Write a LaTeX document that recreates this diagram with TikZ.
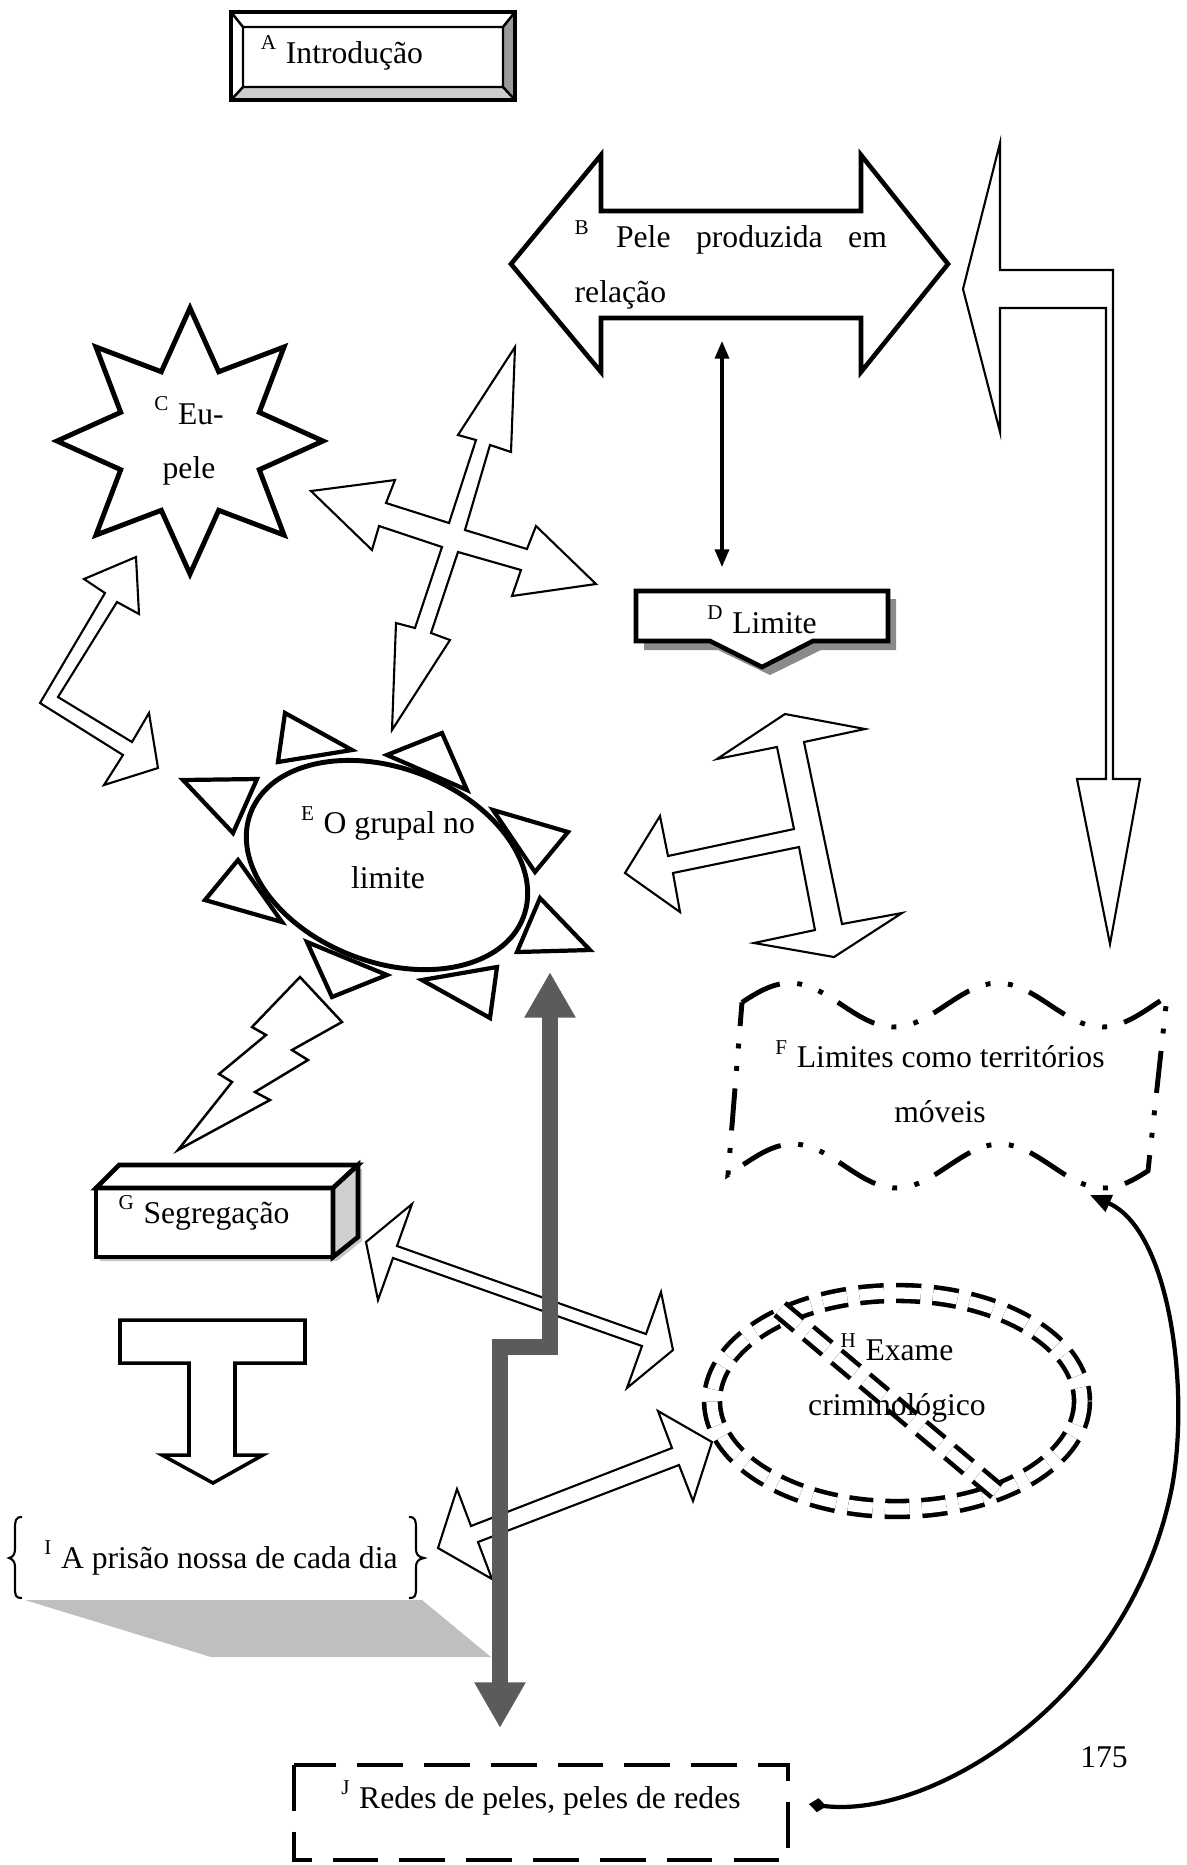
\documentclass[tikz,border=0pt]{standalone}
\usepackage{fontspec}
\setmainfont{Liberation Serif}
\usetikzlibrary{arrows.meta}
\definecolor{bargray}{HTML}{5B5B5B}
\definecolor{shadowgray}{HTML}{BFBFBF}
\definecolor{darkshadow}{HTML}{8A8A8A}
\definecolor{bevelside}{HTML}{9A9A9A}
\definecolor{bevelfoot}{HTML}{CDCDCD}
\definecolor{facegray}{HTML}{D0D0D0}
\begin{document}
\begin{tikzpicture}[x=0.01cm,y=-0.01cm,
  txt/.style={font=\fontsize{9}{15.6}\selectfont, inner sep=0pt, align=center},
  heavy/.style={draw, line width=1.3pt, fill=white},
  blockarr/.style={draw, line width=0.6pt, fill=white},
  barline/.style={draw=bargray, line width=4.3pt, arrows={Triangle[length=13pt,width=13.7pt]-Triangle[length=13pt,width=13.7pt]}},
  dashring/.style={draw, line width=1.3pt, double=white, double distance=3.2pt, dash pattern=on 7pt off 3.5pt}]
\useasboundingbox (0,0) rectangle (1187,1865);

% A
\fill[bevelside] (503,27) -- (515,12) -- (515,100) -- (503,87) -- cycle;
\fill[bevelfoot] (243,87) -- (503,87) -- (515,100) -- (231,100) -- cycle;
\draw[line width=0.9pt] (231,12) rectangle (515,100);
\draw[line width=0.7pt] (243,27) rectangle (503,87) (231,12) -- (243,27) (515,12) -- (503,27)
  (515,100) -- (503,87) (231,100) -- (243,87);
\node[txt, anchor=base] (intro) at (342,63) {\textsuperscript{A} Introdução};

% B
\draw[heavy] (511,264) -- (601,155) -- (601,211) -- (861,211) -- (861,155) -- (948,264)
  -- (861,372) -- (861,318) -- (601,318) -- (601,372) -- cycle;
\node[txt, text width=3.12cm, align=left, anchor=north west] (pele) at (574,220)
  {\textsuperscript{B}\hfill Pele\hfill produzida\hfill em\\relação};

% B -> F bent arrow
\draw[blockarr] (963,289) -- (1000,143) -- (1000,270) -- (1113,270) -- (1113,779) -- (1140,779)
  -- (1110,944) -- (1077,779) -- (1106,779) -- (1106,308) -- (1000,308) -- (1000,432) -- cycle;

% B <-> D
\coordinate (peleFoot) at (722,341);
\coordinate (limiteTop) at (722,567);
\draw[line width=0.9pt, arrows={Triangle[length=5pt,width=4pt]-Triangle[length=5pt,width=4pt]}] (peleFoot) -- (limiteTop);

% D
\fill[darkshadow] (644,599) -- (896,599) -- (896,650) -- (821,650) -- (770,675) -- (718,650) -- (644,650) -- cycle;
\draw[heavy] (636,591) -- (888,591) -- (888,641) -- (813,641) -- (762,667) -- (710,641) -- (636,641) -- cycle;
\node[txt, anchor=base] (limite) at (762,633) {\textsuperscript{D} Limite};

% C
\draw[heavy, line width=1.4pt, shift={(190,441)}] (90:133)
  \foreach \k in {1,...,15} { -- ({90+22.5*\k}:{ifthenelse(isodd(\k),75,133)}) } -- cycle;
\node[txt, anchor=north] (eupele) at (189,396) {\textsuperscript{C} Eu-\\pele};

% C <-> E
\draw[blockarr] (136,557) -- (139,614) -- (117,602) -- (58,697) -- (132,742) -- (149,713) -- (158,768)
  -- (104,785) -- (123,755) -- (40,703) -- (105,593) -- (84,579) -- cycle;

% cross between C, B, D and E
\draw[blockarr] (515,347) -- (511,452) -- (490,445) -- (465,530) -- (527,549) -- (536,526) -- (596,584)
  -- (512,596) -- (521,570) -- (458,552) -- (431,633) -- (450,640) -- (392,730) -- (396,623)
  -- (415,628) -- (442,547) -- (379,526) -- (372,550) -- (311,491) -- (395,480) -- (386,503)
  -- (449,523) -- (476,440) -- (458,435) -- cycle;

% cross between D and E
\draw[blockarr] (785,714) -- (865,729) -- (804,742) -- (842,924) -- (902,913) -- (834,957) -- (754,943)
  -- (815,930) -- (799,847) -- (673,873) -- (680,912) -- (625,873) -- (660,816) -- (668,856)
  -- (794,829) -- (777,747) -- (717,759) -- cycle;

% E
\draw[heavy, line width=1.4pt, rotate around={-21:(387,865)}] (387,865) ellipse [x radius=146, y radius=97];
\foreach \xa/\ya/\xb/\yb/\xc/\yc in {285/713/278/762/352/750, 442/733/467/790/387/755,
    493/810/568/832/535/872, 540/898/590/950/517/952, 497/967/490/1018/422/980,
    307/942/332/997/387/975, 238/860/205/900/282/922, 183/780/257/779/233/833}
  \draw[heavy, line width=1.2pt] (\xa,\ya) -- (\xb,\yb) -- (\xc,\yc) -- cycle;
\node[txt, anchor=north] (grupal) at (388,806) {\textsuperscript{E} O grupal no\\limite};

% E -> G lightning
\draw[blockarr, line width=0.7pt] (300,977) -- (342,1022) -- (292,1050) -- (308,1060) -- (255,1092)
  -- (270,1100) -- (178,1150) -- (232,1082) -- (219,1074) -- (266,1035) -- (252,1027) -- cycle;

% F
\draw[line width=1.4pt, dash pattern=on 12pt off 5pt on 1.4pt off 5pt on 1.4pt off 5pt]
  plot[domain=742:1167, samples=80] (\x, {1005-22*cos((\x-790)*1.7308)})
  -- plot[domain=1148:728, samples=80] (\x, {1166-22*cos((\x-793)*1.7391)}) -- cycle;
\node[txt, anchor=north] (limites) at (940,1040) {\textsuperscript{F} Limites como territórios\\móveis};

% G
\fill[gray!45] (100,1192) -- (123,1169) -- (362,1169) -- (362,1241) -- (337,1261) -- (100,1261) -- cycle;
\draw[heavy] (96,1188) rectangle (333,1257);
\draw[heavy] (96,1188) -- (119,1165) -- (358,1165) -- (333,1188) -- cycle;
\draw[heavy, fill=facegray] (333,1188) -- (358,1165) -- (358,1237) -- (333,1257) -- cycle;
\node[txt, anchor=base] (segreg) at (204,1223) {\textsuperscript{G} Segregação};

% G -> I
\draw[draw, line width=1pt, fill=white] (120,1320) -- (305,1320) -- (305,1363) -- (235,1363) -- (235,1455)
  -- (263,1455) -- (213,1483) -- (162,1455) -- (189,1455) -- (189,1363) -- (120,1363) -- cycle;

% G <-> H
\draw[blockarr] (366,1242) -- (412,1204) -- (397,1246) -- (646,1334) -- (661,1292) -- (673,1350)
  -- (627,1388) -- (642,1346) -- (393,1258) -- (378,1300) -- cycle;

% I <-> H
\draw[blockarr] (438,1548) -- (457,1489) -- (471,1526) -- (672,1448) -- (658,1411) -- (712,1442)
  -- (693,1501) -- (679,1465) -- (478,1542) -- (492,1579) -- cycle;

% H
\draw[dashring] (897,1401) ellipse [x radius=185, y radius=108];
\draw[dashring] (780,1309) -- (1006,1499);
\node[txt, anchor=north] (exame) at (897,1333) {\textsuperscript{H} Exame\\criminológico};

% I
\fill[shadowgray] (25,1600) -- (422,1600) -- (491,1657) -- (211,1657) -- cycle;
\draw[line width=0.6pt] (22,1517) .. controls (15,1517) and (15,1521) .. (15,1530) -- (15,1549)
  .. controls (15,1554) and (13,1557) .. (9,1558) .. controls (13,1559) and (15,1562) .. (15,1567)
  -- (15,1587) .. controls (15,1595) and (15,1598) .. (22,1598);
\draw[line width=0.6pt] (409,1517) .. controls (416,1517) and (416,1521) .. (416,1530) -- (416,1549)
  .. controls (416,1554) and (418,1557) .. (424,1558) .. controls (418,1559) and (416,1562) .. (416,1567)
  -- (416,1587) .. controls (416,1595) and (416,1598) .. (409,1598);
\node[txt, anchor=base] (prisao) at (221,1568) {\textsuperscript{I} A prisão nossa de cada dia};

% J <-> E
\coordinate (grupalFoot) at (550,972);
\coordinate (redesTop) at (500,1728);
\draw[barline] (grupalFoot) -- (550,1347) -| (redesTop);

% J
\draw[line width=1.4pt, dash pattern=on 13pt off 6pt] (294,1765) rectangle (788,1860);
\node[txt, anchor=base] (redes) at (541,1808) {\textsuperscript{J} Redes de peles, peles de redes};

% J -> F
\coordinate (redesEnd) at (809,1804);
\coordinate (limitesEnd) at (1090,1195);
\draw[line width=1.2pt, arrows={Diamond[length=5pt,width=4pt]-Triangle[length=6pt,width=5pt]}]
  (redesEnd) .. controls (930,1820) and (1130,1700) .. (1172,1487)
  .. controls (1190,1390) and (1170,1230) .. (limitesEnd);

\node[txt, anchor=base] (pagina) at (1104,1767) {175};
\end{tikzpicture}
\end{document}
